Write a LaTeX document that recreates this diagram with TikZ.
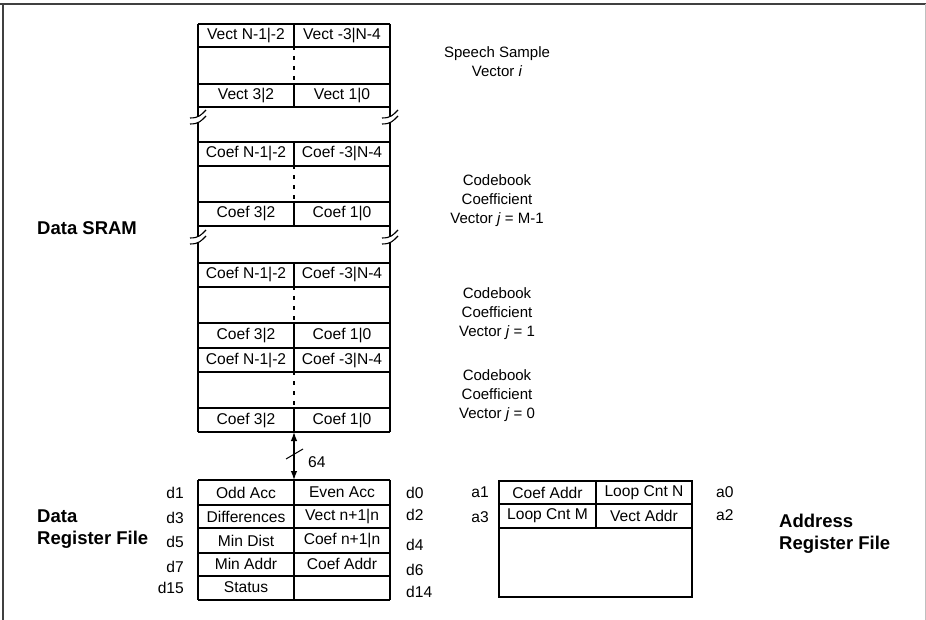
\documentclass[tikz,border=0pt]{standalone}
\usepackage{fontspec}
\setmainfont{Liberation Sans}
\usetikzlibrary{arrows.meta}
\newcommand{\brkmark}[2]{%
  \begin{scope}[shift={(#1,#2)}]
    \draw[brk] (-8,2) .. controls (1,2) and (3,-1) .. (8,-6);
    \draw[brk] (-8,8) .. controls (1,8) and (3,5) .. (8,0);
  \end{scope}}
\begin{document}
\begin{tikzpicture}[x=1pt,y=-1pt,
  ln/.style={draw=black,line width=1.2pt},
  brk/.style={line width=1.1pt},
  dsh/.style={draw=black,line width=1.2pt,dash pattern=on 4pt off 6pt,dash phase=-9pt},
  txt/.style={inner sep=0pt,font=\fontsize{15.6}{18}\selectfont},
  lbl/.style={inner sep=0pt,font=\fontsize{15}{19}\selectfont,align=center},
  bld/.style={inner sep=0pt,font=\fontsize{18.5}{22}\selectfont\bfseries,align=left,anchor=west},
  arr/.style={{Latex[length=9pt,width=6.5pt]}-{Latex[length=9pt,width=6.5pt]},line width=1.2pt}]
\useasboundingbox (0,0) rectangle (926,620);
% frame
\draw[line width=1.5pt,black!75] (0,4) -- (926,4);
\draw[line width=1.5pt,black!75] (3,4) -- (3,620);
\draw[line width=1pt,black!25] (925,4) -- (925,620);

% ---------- Data SRAM ----------
\foreach \y in {24,47,84,107,142,166,202,226,263,287,323,348,372,408,432}
  \draw[ln] (198,\y) -- (390,\y);
\foreach \x in {198,390}{
  \draw[ln] (\x,24) -- (\x,116.3);
  \draw[ln] (\x,122.5) -- (\x,236.3);
  \draw[ln] (\x,242.5) -- (\x,432);
  \brkmark{\x}{116}
  \brkmark{\x}{236}
}
\foreach \a/\b in {24/47,84/107,142/166,202/226,263/287,323/372,408/432}
  \draw[ln] (294,\a) -- (294,\b);
\foreach \a/\b in {47/84,166/202,287/323,372/408}
  \draw[dsh] (294,\a) -- (294,\b);

\node[txt] (v1) at (246,35.5) {Vect N-1|-2};
\node[txt] (v2) at (342,35.5) {Vect -3|N-4};
\node[txt] (v3) at (246,95.5) {Vect 3|2};
\node[txt] (v4) at (342,95.5) {Vect 1|0};
\node[txt] (c1) at (246,154) {Coef N-1|-2};
\node[txt] (c2) at (342,154) {Coef -3|N-4};
\node[txt] (c3) at (246,214) {Coef 3|2};
\node[txt] (c4) at (342,214) {Coef 1|0};
\node[txt] (e1) at (246,275) {Coef N-1|-2};
\node[txt] (e2) at (342,275) {Coef -3|N-4};
\node[txt] (e3) at (246,335.5) {Coef 3|2};
\node[txt] (e4) at (342,335.5) {Coef 1|0};
\node[txt] (f1) at (246,360) {Coef N-1|-2};
\node[txt] (f2) at (342,360) {Coef -3|N-4};
\node[txt] (f3) at (246,420) {Coef 3|2};
\node[txt] (f4) at (342,420) {Coef 1|0};

\node[lbl] (sv) at (497,61.5) {Speech Sample\\Vector \textit{i}};
\node[lbl] (cm) at (497,201) {Codebook\\Coefficient\\Vector \textit{j} = M-1};
\node[lbl] (c1v) at (497,314) {Codebook\\Coefficient\\Vector \textit{j} = 1};
\node[lbl] (c0v) at (497,396) {Codebook\\Coefficient\\Vector \textit{j} = 0};

\node[bld] (sram) at (37,228) {Data SRAM};

% ---------- bus ----------
\coordinate (memBot) at (294,432);
\coordinate (regTop) at (294,480);
\draw[arr] (memBot) -- (regTop);
\coordinate (s1) at (286,459);
\coordinate (s2) at (303,449);
\draw[line width=1pt] (s1) -- (s2);
\node[txt,anchor=west] (w64) at (308,462) {64};

% ---------- Data register file ----------
\foreach \y in {480,505,528,553,576,600}
  \draw[ln] (198,\y) -- (390,\y);
\draw[ln] (198,480) -- (198,600);
\draw[ln] (390,480) -- (390,600);
\draw[ln] (294,480) -- (294,600);
\node[txt] (r1) at (246,492.5) {Odd Acc};
\node[txt] (r2) at (342,492.5) {Even Acc};
\node[txt] (r3) at (246,516.5) {Differences};
\node[txt] (r4) at (342,516.5) {Vect n+1|n};
\node[txt] (r5) at (246,540.5) {Min Dist};
\node[txt] (r6) at (342,540.5) {Coef n+1|n};
\node[txt] (r7) at (246,564) {Min Addr};
\node[txt] (r8) at (342,564) {Coef Addr};
\node[txt] (r9) at (246,587) {Status};

\node[txt,anchor=east] (d1) at (184,493) {d1};
\node[txt,anchor=east] (d3) at (184,518) {d3};
\node[txt,anchor=east] (d5) at (184,542) {d5};
\node[txt,anchor=east] (d7) at (184,567) {d7};
\node[txt,anchor=east] (d15) at (184,588) {d15};
\node[txt,anchor=west] (d0) at (406,493) {d0};
\node[txt,anchor=west] (d2) at (406,515) {d2};
\node[txt,anchor=west] (d4) at (406,545) {d4};
\node[txt,anchor=west] (d6) at (406,570) {d6};
\node[txt,anchor=west] (d14) at (406,592) {d14};

\node[bld] (drf) at (37,529) {Data\\Register File};

% ---------- Address register file ----------
\draw[ln] (499,481) rectangle (692,597);
\draw[ln] (499,504) -- (692,504);
\draw[ln] (499,528) -- (692,528);
\draw[ln] (596,481) -- (596,528);
\node[txt] (q1) at (547.5,492.5) {Coef Addr};
\node[txt] (q2) at (644,492.5) {Loop Cnt N};
\node[txt] (q3) at (547.5,516) {Loop Cnt M};
\node[txt] (q4) at (644,516) {Vect Addr};
\node[txt,anchor=east] (a1) at (489,492) {a1};
\node[txt,anchor=east] (a3) at (489,517) {a3};
\node[txt,anchor=west] (a0) at (716,492) {a0};
\node[txt,anchor=west] (a2) at (716,515) {a2};

\node[bld] (arf) at (779,534) {Address\\Register File};
\end{tikzpicture}
\end{document}
